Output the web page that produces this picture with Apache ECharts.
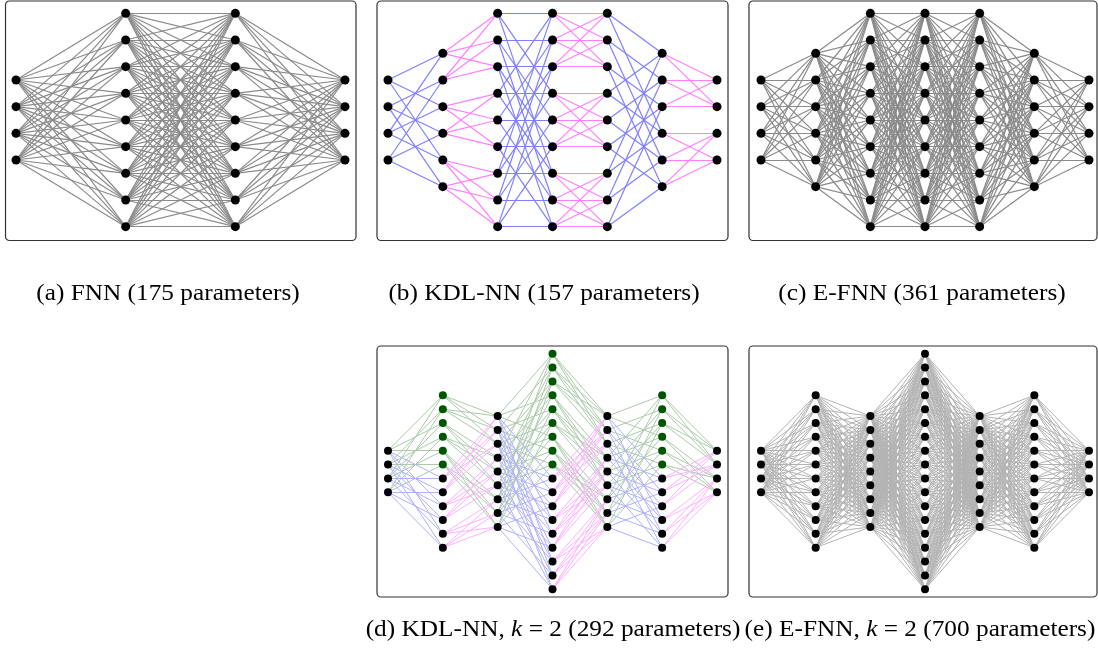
<!DOCTYPE html>
<html>
<head>
<meta charset="utf-8">
<script src="https://cdn.jsdelivr.net/npm/echarts@6/dist/echarts.min.js"></script>
<style>
  html, body { margin: 0; padding: 0; background: #ffffff; }
  #chart { width: 1098px; height: 650px; }
</style>
</head>
<body>
<div id="chart"></div>
<script>
// Layer widths of the dense networks
const fnnLayers   = [4, 9, 9, 4];
const efnnLayers  = [4, 6, 9, 9, 9, 6, 4];
const efnn2Layers = [4, 12, 9, 18, 9, 12, 4];

// Layer widths of the KDL network; odd layers are repeated once per Kronecker term
const kdlLayers = [4, 6, 9, 9, 9, 6, 4];
const kdlTerms  = [1, 2];

// Kronecker wiring between consecutive KDL layers:
// 'A' joins nodes with equal index modulo the block size (A ⊗ I),
// 'B' joins nodes of the same block (I ⊗ B), inBlock -> outBlock nodes per block
const kdlWiring   = ['A', 'B', 'A', 'B', 'A', 'B'];
const kdlInBlock  = [2, 2, 3, 3, 3, 3];
const kdlOutBlock = [2, 3, 3, 3, 3, 2];

const captionNames = ['(a) FNN', '(b) KDL-NN', '(c) E-FNN', '(d) KDL-NN', '(e) E-FNN'];

function denseNet(sizes) {
  const edges = [];
  for (let l = 0; l + 1 < sizes.length; l++)
    for (let i = 0; i < sizes[l]; i++)
      for (let j = 0; j < sizes[l + 1]; j++)
        edges.push({ from: [l, i], to: [l + 1, j], kind: 'dense' });
  return { sizes, edges, k: null, nodeKind: () => 'base' };
}

function kdlNet(factorSizes, k) {
  const sizes = factorSizes.map((n, l) => (l % 2 ? n * k : n));
  // the first term sits at the bottom of a repeated layer, further terms above it
  const pos = (l, t, i) => (l % 2 ? (k - 1 - t) * factorSizes[l] + i : i);
  const edges = [];
  for (let l = 0; l + 1 < factorSizes.length; l++) {
    const m = factorSizes[l], n = factorSizes[l + 1];
    const a = kdlInBlock[l], b = kdlOutBlock[l];
    for (let t = 0; t < k; t++)
      for (let i = 0; i < m; i++)
        for (let j = 0; j < n; j++) {
          const linked = kdlWiring[l] === 'A'
            ? i % a === j % b
            : Math.floor(i / a) === Math.floor(j / b);
          if (linked)
            edges.push({ from: [l, pos(l, t, i)], to: [l + 1, pos(l + 1, t, j)], kind: t > 0 ? 'extra' : kdlWiring[l] });
        }
  }
  const nodeKind = (l, idx) => (l % 2 && idx < (k - 1) * factorSizes[l] ? 'extra' : 'base');
  return { sizes, edges, k: k > 1 ? k : null, nodeKind };
}

// trainable parameters: one weight per edge plus one bias per non-input node
function paramCount(net) {
  return net.edges.length + net.sizes.slice(1).reduce((s, v) => s + v, 0);
}

const nets = [
  denseNet(fnnLayers),
  kdlNet(kdlLayers, kdlTerms[0]),
  denseNet(efnnLayers),
  kdlNet(kdlLayers, kdlTerms[1]),
  denseNet(efnn2Layers)
];
nets[4].k = kdlTerms[1];

// panel layout and styling
const TOP = { top: 0, height: 240, yHalf: 4.5, boxY: 1, boxH: 239.5, capY: 294, sym: 9, lw: 1.2 };
const BOT = { top: 346, height: 251, yHalf: 9.06, boxY: 346, boxH: 251, capY: 630, sym: 8, lw: 1.0 };
const panels = [
  { row: TOP, left: 16,  width: 329, boxX: 5.5, boxW: 350.5, capX: 168,
    colors: { dense: '#8a8a8a' } },
  { row: TOP, left: 388, width: 329, boxX: 377, boxW: 351, capX: 544,
    colors: { A: '#8080ff', B: '#ff80ff' } },
  { row: TOP, left: 761, width: 328, boxX: 749, boxW: 348, capX: 922,
    colors: { dense: '#8a8a8a' } },
  { row: BOT, left: 388, width: 329, boxX: 377, boxW: 351, capX: 553,
    colors: { A: '#b0b0ff', B: '#ffb0ff', extra: '#adcaad' } },
  { row: BOT, left: 761, width: 328, boxX: 749, boxW: 348, capX: 920,
    colors: { dense: '#b3b3b3' } }
];
const nodeColors = { base: '#000000', extra: '#005500' };
const edgeOrder = ['extra', 'dense', 'A', 'B'];
const FONT = '"Liberation Serif", "Times New Roman", serif';

const grid = [], xAxis = [], yAxis = [], series = [], graphic = [];

panels.forEach((p, idx) => {
  const net = nets[idx];
  const row = p.row;
  grid.push({ left: p.left, top: row.top, width: p.width, height: row.height, show: false });
  xAxis.push({ type: 'value', gridIndex: idx, min: 0, max: net.sizes.length - 1, show: false });
  yAxis.push({ type: 'value', gridIndex: idx, min: -row.yHalf, max: row.yHalf, inverse: true, show: false });

  const at = (l, i) => [l, i - (net.sizes[l] - 1) / 2];

  edgeOrder.forEach(kind => {
    const list = net.edges.filter(e => e.kind === kind);
    if (!list.length) return;
    series.push({
      type: 'lines',
      coordinateSystem: 'cartesian2d',
      xAxisIndex: idx, yAxisIndex: idx,
      silent: true, animation: false, clip: false, z: 2,
      lineStyle: { color: p.colors[kind], width: row.lw, opacity: 1, curveness: 0 },
      data: list.map(e => ({ coords: [at(e.from[0], e.from[1]), at(e.to[0], e.to[1])] }))
    });
  });

  const nodes = [];
  net.sizes.forEach((n, l) => {
    for (let i = 0; i < n; i++)
      nodes.push({ value: at(l, i), itemStyle: { color: nodeColors[net.nodeKind(l, i)], opacity: 1 } });
  });
  series.push({
    type: 'scatter', xAxisIndex: idx, yAxisIndex: idx,
    silent: true, animation: false, clip: false, z: 5,
    symbol: 'circle', symbolSize: row.sym,
    itemStyle: { opacity: 1 },
    data: nodes
  });

  graphic.push({
    type: 'rect', silent: true, z: 1,
    shape: { x: p.boxX, y: row.boxY, width: p.boxW, height: row.boxH, r: 4 },
    style: { fill: 'none', stroke: '#333333', lineWidth: 1.2 }
  });

  const kPart = net.k ? ', {it|k} = ' + net.k : '';
  graphic.push({
    type: 'text', silent: true, z: 10,
    x: p.capX, y: row.capY, scaleX: 1.1,
    style: {
      text: captionNames[idx] + kPart + ' (' + paramCount(net) + ' parameters)',
      fontFamily: FONT, fontSize: 23, fill: '#000000',
      align: 'center', verticalAlign: 'middle',
      rich: { it: { fontFamily: FONT, fontSize: 23, fontStyle: 'italic', fill: '#000000' } }
    }
  });
});

const chart = echarts.init(document.getElementById('chart'), null, { renderer: 'canvas' });
chart.setOption({
  animation: false,
  backgroundColor: '#ffffff',
  grid, xAxis, yAxis, series, graphic
});
</script>
</body>
</html>
